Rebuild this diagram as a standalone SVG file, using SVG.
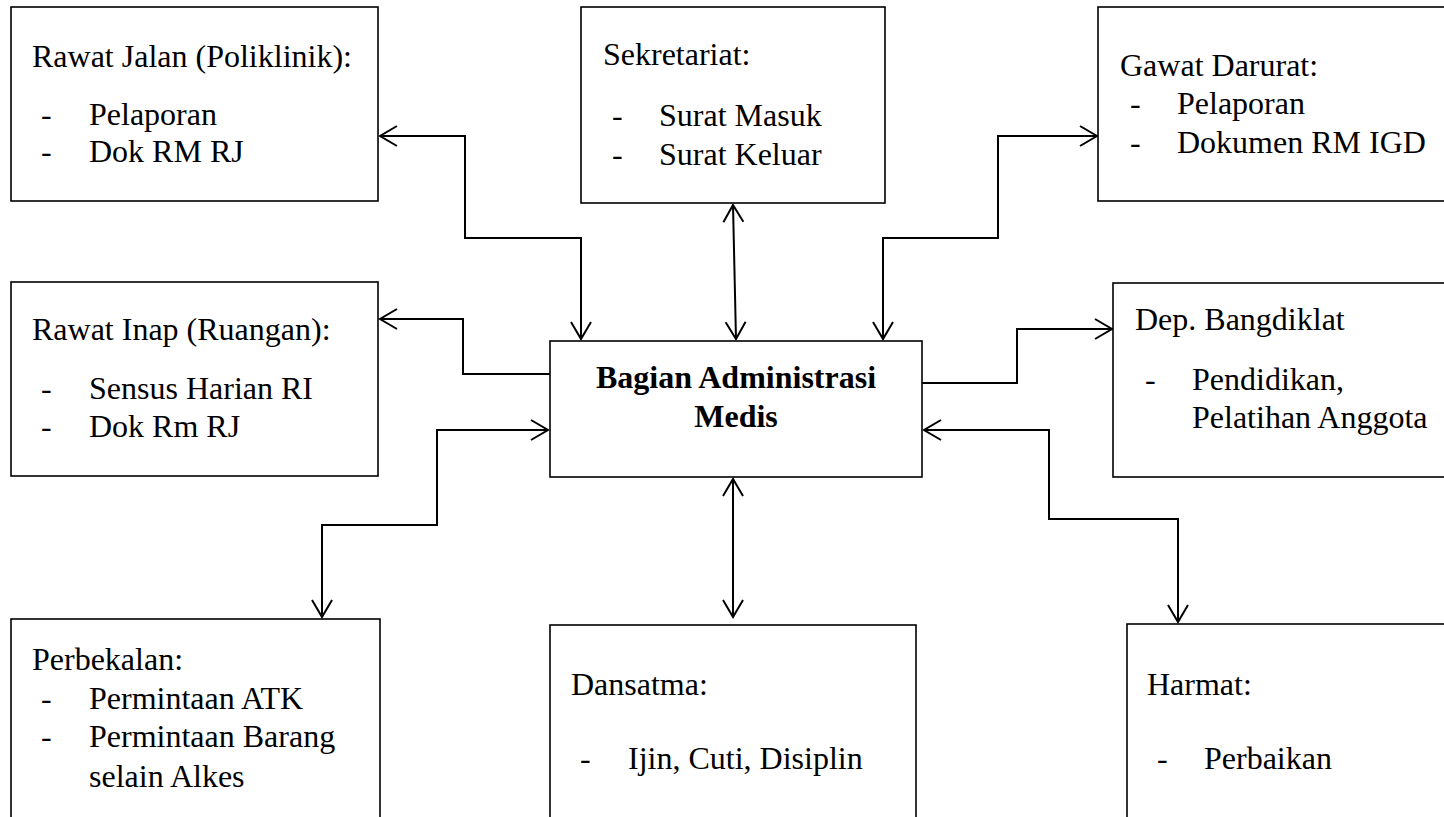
<svg xmlns="http://www.w3.org/2000/svg" width="1444" height="817" viewBox="0 0 1444 817">
  <style>
    .box { fill: #ffffff; stroke: #000000; stroke-width: 1.6; }
    .t { font-family: "Liberation Serif", "Times New Roman", serif; font-size: 32px; fill: #000000; }
    .b { font-weight: bold; text-anchor: middle; }
    .link { fill: none; stroke: #000000; stroke-width: 2; stroke-linejoin: miter; }
  </style>
  <defs>
    <marker id="head" viewBox="0 0 20 22" refX="18" refY="11" markerWidth="20" markerHeight="22" markerUnits="userSpaceOnUse" orient="auto-start-reverse">
      <path d="M1,1 L18,11 L1,21" fill="none" stroke="#000000" stroke-width="2"/>
    </marker>
  </defs>
  <rect width="1444" height="817" fill="#ffffff"/>

  <!-- connectors -->
  <g id="connectors">
    <path class="link" d="M380,136 H465 V238 H581 V339" marker-start="url(#head)" marker-end="url(#head)"/>
    <path class="link" d="M733,205 L736,339" marker-start="url(#head)" marker-end="url(#head)"/>
    <path class="link" d="M1097,136 H998 V238 H883 V339" marker-start="url(#head)" marker-end="url(#head)"/>
    <path class="link" d="M380,319 H463 V374 H550" marker-start="url(#head)"/>
    <path class="link" d="M548,430 H437 V525 H322 V617" marker-start="url(#head)" marker-end="url(#head)"/>
    <path class="link" d="M922,383 H1017 V329 H1112" marker-end="url(#head)"/>
    <path class="link" d="M924,430 H1049 V519 H1178 V622" marker-start="url(#head)" marker-end="url(#head)"/>
    <path class="link" d="M733,479 V617" marker-start="url(#head)" marker-end="url(#head)"/>
  </g>

  <!-- central unit -->
  <g id="admin-medis">
    <rect class="box" x="550" y="341" width="372" height="136"/>
    <text class="t b" x="736" y="388">Bagian Administrasi</text>
    <text class="t b" x="736" y="427">Medis</text>
  </g>

  <g id="rawat-jalan">
    <rect class="box" x="11" y="7" width="367" height="194"/>
    <text class="t" x="32" y="67">Rawat Jalan (Poliklinik):</text>
    <text class="t" x="41" y="125">-</text>
    <text class="t" x="89" y="125">Pelaporan</text>
    <text class="t" x="41" y="162">-</text>
    <text class="t" x="89" y="162">Dok RM RJ</text>
  </g>

  <g id="sekretariat">
    <rect class="box" x="581" y="7" width="304" height="196"/>
    <text class="t" x="603" y="65">Sekretariat:</text>
    <text class="t" x="612" y="126">-</text>
    <text class="t" x="659" y="126">Surat Masuk</text>
    <text class="t" x="612" y="165">-</text>
    <text class="t" x="659" y="165">Surat Keluar</text>
  </g>

  <g id="gawat-darurat">
    <rect class="box" x="1098" y="7" width="360" height="194"/>
    <text class="t" x="1120" y="76">Gawat Darurat:</text>
    <text class="t" x="1130" y="114">-</text>
    <text class="t" x="1177" y="114">Pelaporan</text>
    <text class="t" x="1130" y="153">-</text>
    <text class="t" x="1177" y="153">Dokumen RM IGD</text>
  </g>

  <g id="rawat-inap">
    <rect class="box" x="11" y="282" width="367" height="194"/>
    <text class="t" x="32" y="340">Rawat Inap (Ruangan):</text>
    <text class="t" x="41" y="399">-</text>
    <text class="t" x="89" y="399">Sensus Harian RI</text>
    <text class="t" x="41" y="437">-</text>
    <text class="t" x="89" y="437">Dok Rm RJ</text>
  </g>

  <g id="bangdiklat">
    <rect class="box" x="1113" y="283" width="345" height="194"/>
    <text class="t" x="1135" y="330">Dep. Bangdiklat</text>
    <text class="t" x="1145" y="390">-</text>
    <text class="t" x="1192" y="390">Pendidikan,</text>
    <text class="t" x="1192" y="428">Pelatihan Anggota</text>
  </g>

  <g id="perbekalan">
    <rect class="box" x="11" y="619" width="369" height="220"/>
    <text class="t" x="32" y="670">Perbekalan:</text>
    <text class="t" x="41" y="709">-</text>
    <text class="t" x="89" y="709">Permintaan ATK</text>
    <text class="t" x="41" y="747">-</text>
    <text class="t" x="89" y="747">Permintaan Barang</text>
    <text class="t" x="89" y="787">selain Alkes</text>
  </g>

  <g id="dansatma">
    <rect class="box" x="550" y="625" width="366" height="220"/>
    <text class="t" x="571" y="695">Dansatma:</text>
    <text class="t" x="580" y="769">-</text>
    <text class="t" x="628" y="769">Ijin, Cuti, Disiplin</text>
  </g>

  <g id="harmat">
    <rect class="box" x="1127" y="624" width="340" height="220"/>
    <text class="t" x="1147" y="695">Harmat:</text>
    <text class="t" x="1157" y="769">-</text>
    <text class="t" x="1204" y="769">Perbaikan</text>
  </g>
</svg>
